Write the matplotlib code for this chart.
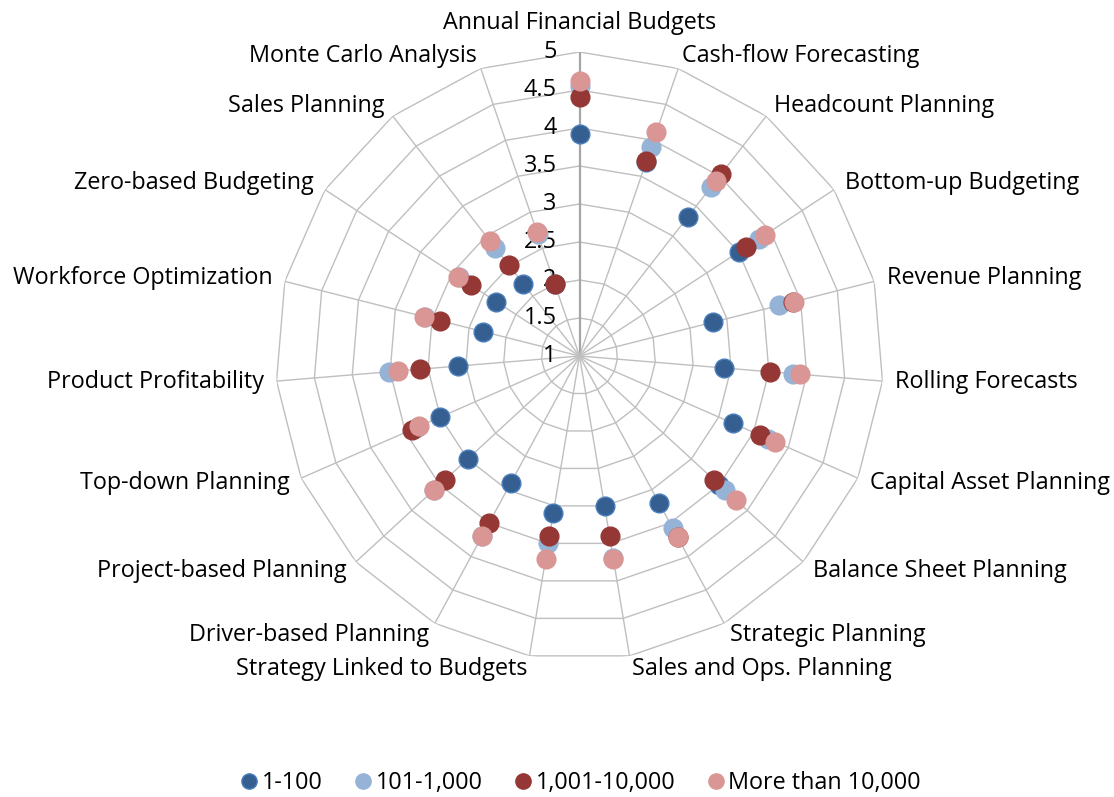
import numpy as np
import matplotlib
matplotlib.use("Agg")
import matplotlib.pyplot as plt
from matplotlib.lines import Line2D
from matplotlib.transforms import offset_copy

plt.rcParams['font.family'] = ['Open Sans', 'DejaVu Sans']

categories = ["Annual Financial Budgets", "Cash-flow Forecasting", "Headcount Planning",
              "Bottom-up Budgeting", "Revenue Planning", "Rolling Forecasts",
              "Capital Asset Planning", "Balance Sheet Planning", "Strategic Planning",
              "Sales and Ops. Planning", "Strategy Linked to Budgets", "Driver-based Planning",
              "Project-based Planning", "Top-down Planning", "Product Profitability",
              "Workforce Optimization", "Zero-based Budgeting", "Sales Planning",
              "Monte Carlo Analysis"]

series_names = ["1-100", "101-1,000", "1,001-10,000", "More than 10,000"]
s_1_100 = [3.92, 3.70, 3.32, 3.51, 2.81, 2.91, 3.21, 3.50, 3.20, 3.00,
           3.10, 2.90, 3.00, 3.00, 2.60, 2.31, 2.31, 2.20, 2.00]
s_101_1000 = [4.55, 3.91, 3.81, 3.82, 3.71, 3.82, 3.71, 3.60, 3.58, 3.70,
              3.50, 3.70, 3.60, 3.35, 3.52, 3.10, 2.90, 2.80, 2.70]
s_1001_10000 = [4.41, 3.71, 4.03, 3.62, 3.90, 3.51, 3.60, 3.40, 3.71, 3.40,
                3.40, 3.50, 3.40, 3.41, 3.10, 2.90, 2.71, 2.51, 2.00]
s_10000_plus = [4.62, 4.11, 3.92, 3.92, 3.91, 3.91, 3.81, 3.80, 3.71, 3.71,
                3.71, 3.70, 3.60, 3.30, 3.40, 3.11, 2.91, 2.91, 2.72]
r_ticks = [1, 1.5, 2, 2.5, 3, 3.5, 4, 4.5, 5]

colors = ["#365F91", "#95B3D7", "#953735", "#D99694"]
edges = ["#4A7EBB", "#95B3D7", "#953735", "#D99694"]

W, H = 1114, 797
fig = plt.figure(figsize=(W / 100, H / 100), dpi=100)
cx, cy, rad = 579.5, 356, 304
ax = fig.add_axes([(cx - rad) / W, (H - cy - rad) / H, 2 * rad / W, 2 * rad / H],
                  projection='polar')
ax.set_theta_zero_location('N')
ax.set_theta_direction(-1)
ax.set_ylim(1, 5)
ax.axis('off')

n = len(categories)
angles = np.arange(n) * 2 * np.pi / n
closed = np.append(angles, angles[0])

# polygon grid
for r in r_ticks[1:]:
    ax.plot(closed, [r] * (n + 1), color='#BFBFBF', lw=1, zorder=1)
for i, a in enumerate(angles):
    ax.plot([a, a], [1, 5], color='#A6A6A6' if i == 0 else '#BFBFBF',
            lw=1.6 if i == 0 else 1, zorder=1)

fs = 16.8
# radial tick labels
tick_tr = offset_copy(ax.transData, fig=fig, x=-23, y=0, units='dots')
for r in r_ticks:
    ax.text(0, r, f"{r:g}", transform=tick_tr, ha='right', va='center',
            fontsize=fs, color='black', zorder=2)

# category labels
for a, name in zip(angles, categories):
    s = np.sin(a)
    if abs(s) < 0.05:
        ax.text(a, 5.23, name, ha='center', va='bottom', fontsize=fs)
    else:
        ax.text(a, 5.17, name, ha='left' if s > 0 else 'right', va='center', fontsize=fs)

all_series = [s_1_100, s_101_1000, s_1001_10000, s_10000_plus]
for vals, c, ec, name in zip(all_series, colors, edges, series_names):
    ax.plot(angles, vals, ls='', marker='o', markersize=13.5, color=c,
            markeredgecolor=ec, markeredgewidth=1, zorder=3, clip_on=False, label=name)

handles = [Line2D([], [], ls='', marker='o', markersize=11, color=c, markeredgecolor=ec)
           for c, ec in zip(colors, edges)]
fig.legend(handles, series_names, loc='lower center', bbox_to_anchor=(0.52, -0.024),
           ncol=4, frameon=False, fontsize=fs, handletextpad=0.05, columnspacing=1.22,
           handlelength=1.0)

fig.savefig("out.png", dpi=100)
